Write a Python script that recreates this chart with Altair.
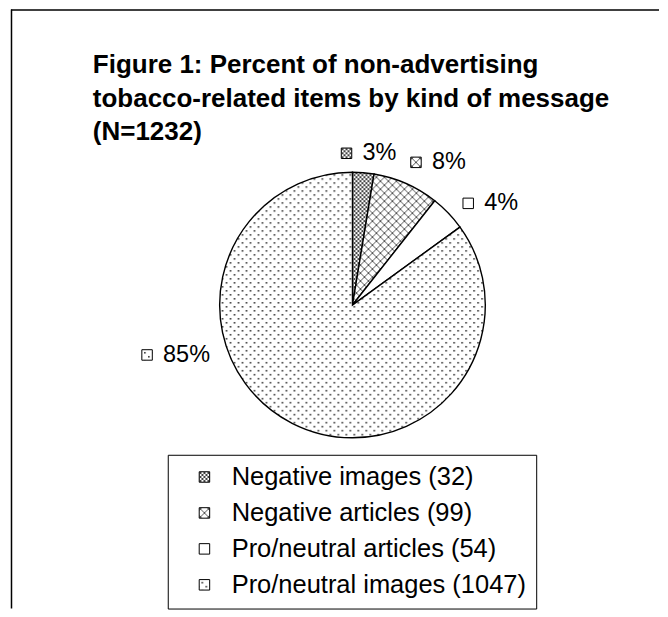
import altair as alt
import pandas as pd
import jinja2

# ---- data ----
categories = ["Negative images (32)", "Negative articles (99)",
              "Pro/neutral articles (54)", "Pro/neutral images (1047)"]
counts = [32, 99, 54, 1047]
pct_labels = ["3%", "8%", "4%", "85%"]
title_lines = ["Figure 1: Percent of non-advertising",
               "tobacco-related items by kind of message",
               "(N=1232)"]

# ---- styling / layout ----
fills = ["url(#pDense)", "url(#pHatch)", "#ffffff", "url(#pDots)"]
FONT = "Liberation Sans"
CX, CY, R = 345, 297, 133          # pie centre and radius (view pixels)
LABEL_R = 160                      # radius of label anchors
# manual label nudges, like dragged Excel data labels
nudge_x = [-3, 15, 16.5, -117]
nudge_y = [7.5, 3.5, 9, -92.5]

df = pd.DataFrame({"category": categories, "count": counts,
                   "pct": pct_labels, "order": list(range(len(counts)))})

fill_scale = alt.Scale(domain=categories, range=fills)

pie = alt.Chart(df).mark_arc(outerRadius=R, stroke="black", strokeWidth=1.4).encode(
    theta=alt.Theta("count:Q", stack=True),
    order=alt.Order("order:Q"),
    fill=alt.Fill("category:N", scale=fill_scale, legend=alt.Legend(
        title=None, orient="none", legendX=160, legendY=447,
        padding=9.5, rowPadding=9, symbolType="square", symbolSize=110,
        symbolStrokeColor="black", symbolStrokeWidth=1, symbolOffset=14.5,
        labelOffset=14.5, labelFont=FONT, labelFontSize=25.5, labelColor="black",
        labelExpr="datum.label + '\u00a0'",
        labelLimit=600, strokeColor="black", fillColor="white")),
    x=alt.value(CX), y=alt.value(CY),
)

nx = "[" + ",".join(str(v) for v in nudge_x) + "]"
ny = "[" + ",".join(str(v) for v in nudge_y) + "]"

lab_base = alt.Chart(df).transform_window(
    cum="sum(count)", sort=[alt.SortField("order")], frame=[None, 0]
).transform_joinaggregate(
    total="sum(count)"
).transform_calculate(
    mid="2*PI*(datum.cum - datum.count/2)/datum.total"
).transform_calculate(
    lx=f"{CX} + {LABEL_R}*sin(datum.mid) + {nx}[datum.order]",
    ly=f"{CY} - {LABEL_R}*cos(datum.mid) + {ny}[datum.order]",
).transform_calculate(
    sx="datum.lx - 16"
)

swatches = lab_base.mark_square(size=110, filled=True, stroke="black",
                                strokeWidth=1, opacity=1).encode(
    x=alt.X("sx:Q", scale=None, axis=None),
    y=alt.Y("ly:Q", scale=None, axis=None),
    fill=alt.Fill("category:N", scale=fill_scale, legend=None),
)

texts = lab_base.mark_text(align="left", baseline="middle", font=FONT,
                           fontSize=23.5, color="black").encode(
    x=alt.X("lx:Q", scale=None, axis=None),
    y=alt.Y("ly:Q", scale=None, axis=None),
    text="pct:N",
)

one = pd.DataFrame({"k": [0]})
title = alt.Chart(one).mark_text(
    text=title_lines, align="left", baseline="alphabetic", font=FONT,
    fontWeight="bold", fontSize=26, lineHeight=33.5, color="black"
).encode(x=alt.value(85), y=alt.value(65))

top_rule = alt.Chart(one).mark_rule(color="black", strokeWidth=1.5).encode(
    x=alt.value(3), x2=alt.value(652), y=alt.value(1.5))
left_rule = alt.Chart(one).mark_rule(color="black", strokeWidth=1.5).encode(
    x=alt.value(3.5), y=alt.value(1), y2=alt.value(601))

chart = alt.layer(pie, swatches, texts, title, top_rule, left_rule).properties(
    width=652, height=601, padding=0
).configure_view(strokeWidth=0)

# SVG fill patterns used by the slices and swatches
DEFS = """
<svg width="0" height="0" style="position:absolute">
 <defs>
  <pattern id="pDots" width="8" height="8" patternUnits="userSpaceOnUse">
   <rect width="8" height="8" fill="#ffffff"/>
   <rect x="1" y="1" width="1.6" height="1.6" fill="#333333"/>
   <rect x="5" y="5" width="1.6" height="1.6" fill="#333333"/>
  </pattern>
  <pattern id="pHatch" width="8" height="8" patternUnits="userSpaceOnUse">
   <rect width="8" height="8" fill="#ffffff"/>
   <path d="M0,0 L8,8 M8,0 L0,8" stroke="#555555" stroke-width="1"/>
  </pattern>
  <pattern id="pDense" width="4" height="4" patternUnits="userSpaceOnUse">
   <rect width="4" height="4" fill="#ffffff"/>
   <path d="M0,0 L4,4 M4,0 L0,4" stroke="#444444" stroke-width="1"/>
  </pattern>
 </defs>
</svg>
"""

EMBED = {"renderer": "svg", "actions": False}
page = chart.to_html(embed_options=EMBED).replace("<body>", "<body>" + DEFS, 1)
template = jinja2.Template("{% raw %}" + page + "{% endraw %}")

chart.save("out.html", embed_options={"renderer": "svg", "actions": False}, template=template)
